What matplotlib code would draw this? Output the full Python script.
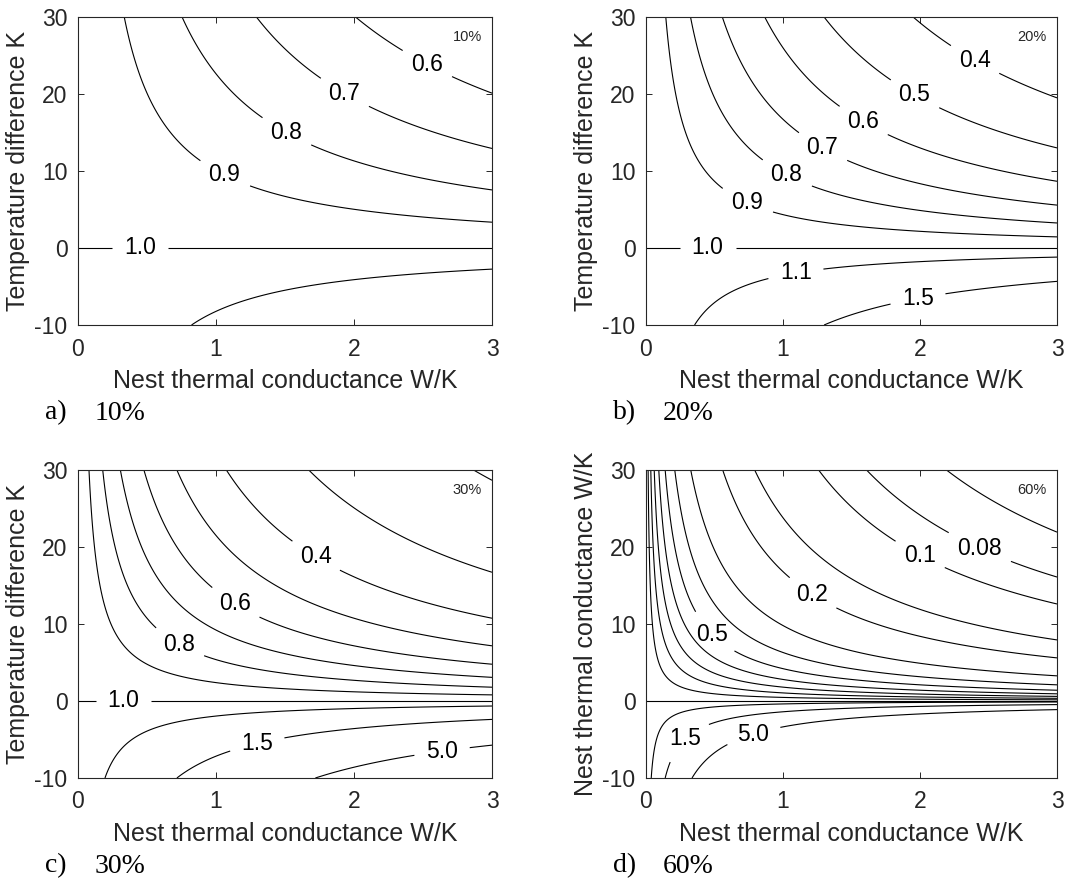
import matplotlib
matplotlib.use('Agg')
import matplotlib.pyplot as plt
import numpy as np

# panel captions and the small tag in each top right corner
panel_letters = ['a)', 'b)', 'c)', 'd)']
panel_shares = ['10%', '20%', '30%', '60%']

panel_scales = [90.5, 39.0, 21.5, 4.2]

# contour levels drawn in every panel
contour_levels = [0.06, 0.08, 0.1, 0.15, 0.2, 0.3, 0.4, 0.5, 0.6, 0.7, 0.8, 0.9,
                  1.0, 1.1, 1.5, 5.0]

# levels that carry a label in each panel
label_levels = [
    [0.6, 0.7, 0.8, 0.9, 1.0],
    [0.4, 0.5, 0.6, 0.7, 0.8, 0.9, 1.0, 1.1, 1.5],
    [0.4, 0.6, 0.8, 1.0, 1.5, 5.0],
    [0.08, 0.1, 0.2, 0.5, 1.5, 5.0],
]

y_labels = ['Temperature difference K', 'Temperature difference K',
            'Temperature difference K', 'Nest thermal conductance W/K']
x_label = 'Nest thermal conductance W/K'

x_ticks = [0, 1, 2, 3]
y_ticks = [-10, 0, 10, 20, 30]

# layout: where the labels sit (conductance, temperature difference), same order as label_levels
label_spots = [
    [(2.53, 23.9), (1.93, 20.1), (1.49, 14.4), (1.05, 9.1), (0.45, 0.0)],
    [(2.38, 23.8), (1.95, 19.6), (1.60, 16.9), (1.29, 13.1), (1.03, 9.7),
     (0.71, 4.9), (0.45, 0.0), (1.09, -2.9), (1.98, -6.1)],
    [(1.72, 18.7), (1.14, 12.7), (0.74, 7.7), (0.33, 0.0), (1.30, -5.7), (2.64, -6.8)],
    [(2.46, 20.9), (2.00, 19.0), (1.21, 13.8), (0.49, 8.8), (0.34, -5.9), (0.80, -5.3)],
]

# axes boxes in figure fractions (left, bottom, width, height)
W, H = 1066.0, 880.0
axes_boxes = [
    (78 / W, 1 - 325 / H, 414 / W, 308 / H),
    (646 / W, 1 - 325 / H, 411 / W, 308 / H),
    (78 / W, 1 - 778 / H, 414 / W, 308 / H),
    (646 / W, 1 - 778 / H, 411 / W, 308 / H),
]

plt.rcParams['font.family'] = ['Liberation Sans', 'DejaVu Sans']
plt.rcParams['axes.unicode_minus'] = False
frame_color = '#262626'


def level_text(v):
    # 0.08 keeps two decimals, everything else one
    if v < 0.1 - 1e-9:
        return f'{v:.2f}'
    return f'{v:.1f}'


def ratio_field(scale):
    g = np.linspace(0.0005, 3, 900)
    t = np.linspace(-10, 30, 800)
    gg, tt = np.meshgrid(g, t)
    den = 1 + gg * tt / scale
    with np.errstate(divide='ignore', invalid='ignore'):
        r = np.where(den > 0, 1.0 / den, 1e3)
    return gg, tt, r


fig = plt.figure(figsize=(W / 100, H / 100), dpi=100)

for i in range(4):
    ax = fig.add_axes(axes_boxes[i])
    gg, tt, r = ratio_field(panel_scales[i])

    # plain lines first, then the labelled ones as their own set
    plain = [v for v in contour_levels if v not in label_levels[i]]
    ax.contour(gg, tt, r, levels=plain, colors='black', linewidths=0.8)
    for lv, spot in zip(label_levels[i], label_spots[i]):
        cs = ax.contour(gg, tt, r, levels=[lv], colors='black', linewidths=0.8)
        texts = ax.clabel(cs, manual=[spot], inline=True, inline_spacing=12,
                          fmt=level_text, fontsize=16.5)
        # labels stand upright, like the original
        for t in texts:
            t.set_rotation(0)

    ax.set_xlim(0, 3)
    ax.set_ylim(-10, 30)
    ax.set_xticks(x_ticks)
    ax.set_yticks(y_ticks)
    ax.tick_params(direction='in', top=True, right=True, length=4, width=0.7,
                   labelsize=16.5, colors=frame_color)
    ax.tick_params(axis='x', pad=9)
    ax.tick_params(axis='y', pad=7.5)
    for spine in ax.spines.values():
        spine.set_color(frame_color)
        spine.set_linewidth(0.8)

    ax.set_xlabel(x_label, fontsize=18, color=frame_color, labelpad=6)
    ax.set_ylabel(y_labels[i], fontsize=18, color=frame_color, labelpad=3)

    # small tag in the top right corner
    ax.text(0.975, 0.935, panel_shares[i], transform=ax.transAxes, ha='right',
            va='center', fontsize=10.5, color=frame_color)

    # caption under the axes
    x0, y0, w0, h0 = axes_boxes[i]
    cap_y = y0 - 88 / H
    fig.text(x0 - 33 / W, cap_y, panel_letters[i], family='Liberation Serif',
             fontsize=20, va='center', ha='left')
    fig.text(x0 + 17 / W, cap_y, panel_shares[i], family='Liberation Serif',
             fontsize=20, va='center', ha='left')

fig.savefig('out.png', dpi=100)
